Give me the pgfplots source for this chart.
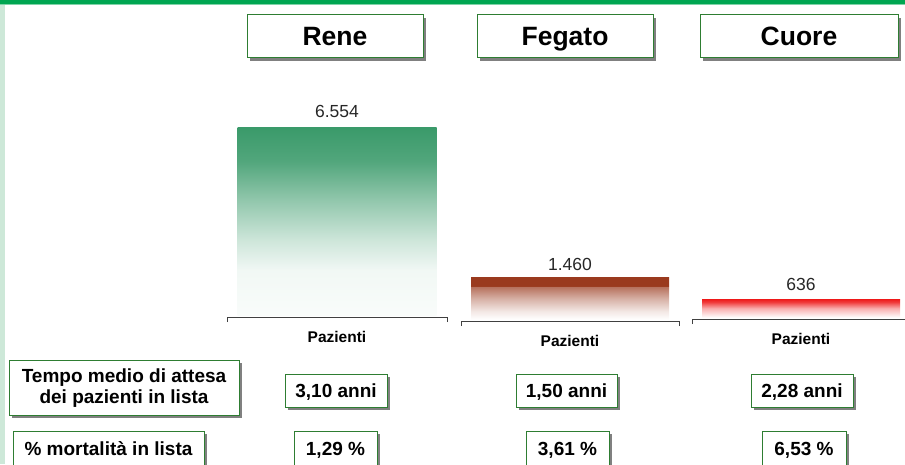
\documentclass[border=0pt]{standalone}
\usepackage{pgfplots}
\pgfplotsset{compat=1.18}
\usepackage{fontspec}
\setmainfont{Liberation Sans}
\definecolor{topgreen}{HTML}{00A651}
\definecolor{lightline}{HTML}{7FD3A8}
\definecolor{strip}{HTML}{CDE8D8}
\definecolor{boxgreen}{HTML}{2E7D32}
\definecolor{shadowgray}{HTML}{808080}
\definecolor{renegreen}{HTML}{3A9A6A}
\definecolor{fegbrown}{HTML}{9A3A1E}
\definecolor{cuorered}{HTML}{EE1C1C}
\definecolor{axisgray}{HTML}{404040}
\pgfdeclareverticalshading{reneshade}{100bp}{color(0bp)=(renegreen!3!white); color(25bp)=(renegreen!3!white); color(37bp)=(renegreen!7!white); color(45bp)=(renegreen!25!white); color(55.5bp)=(renegreen!55!white); color(66bp)=(renegreen!88!white); color(75bp)=(renegreen); color(100bp)=(renegreen)}
\pgfdeclareverticalshading{fegshade}{100bp}{color(0bp)=(white); color(25bp)=(white); color(35bp)=(fegbrown!12!white); color(50bp)=(fegbrown!40!white); color(64bp)=(fegbrown!72!white); color(65bp)=(fegbrown); color(75bp)=(fegbrown); color(100bp)=(fegbrown)}
\pgfdeclareverticalshading{cuoreshade}{100bp}{color(0bp)=(white); color(25bp)=(white); color(50bp)=(cuorered!35!white); color(67bp)=(cuorered!85!white); color(75bp)=(cuorered); color(100bp)=(cuorered)}
\newcommand{\shframe}[4]{% x1 ytop x2 ybottom (pixel coords)
  \fill[shadowgray] (#1pt+3pt,464pt-#2pt-3pt) rectangle (#3pt+3pt,464pt-#4pt-3pt);
  \draw[boxgreen, line width=1pt, fill=white] (#1pt,464pt-#2pt) rectangle (#3pt,464pt-#4pt);
}
\newcommand{\shbox}[6]{% x1 ytop x2 ybottom fontsize text
  \shframe{#1}{#2}{#3}{#4}
  \node[anchor=base, inner sep=0pt, font=\fontsize{#5}{#5}\selectfont\bfseries] at ({(#1pt+#3pt)/2},{464pt-(#2pt+#4pt)/2-0.358*#5pt}) {#6};
}
\pgfplotsset{organ/.style={
  scale only axis, height=201pt, xmin=0, xmax=1, ymin=-50, ymax=6950,
  hide y axis, axis x line*=bottom, clip=false,
  xtick={0,1}, xticklabels={}, tick align=outside, major tick length=5pt,
  axis line style={axisgray, line width=0.9pt}, every tick/.style={axisgray, line width=0.9pt},
  point meta=explicit symbolic,
  nodes near coords,
  anchor=south west}}
\tikzset{vallabel/.style={anchor=center, font=\fontsize{17.5}{20}\selectfont, text=black!85}}
\begin{document}
\begin{tikzpicture}
% decorations
\fill[topgreen] (0pt,460pt) rectangle (905pt,464pt);
\fill[lightline] (0pt,459pt) rectangle (905pt,460pt);
\fill[strip] (0pt,0pt) rectangle (5pt,459pt);
% title boxes
\shbox{247}{15}{423}{58}{26.5}{Rene}
\shbox{477}{15}{653}{58}{26.5}{Fegato}
\shbox{700}{15}{898}{58}{26.5}{Cuore}
% charts
\begin{axis}[organ, at={(227pt,147pt)}, width=220pt, nodes near coords style={vallabel, yshift=16pt}]
\addplot[ybar, bar width=199pt, draw=none, shading=reneshade] coordinates {(0.5,6554) [6.554]};
\node[font=\fontsize{15.5}{18}\selectfont\bfseries] at ([yshift=-20pt]axis description cs:0.5,0) {Pazienti};
\end{axis}
\begin{axis}[organ, at={(461pt,143pt)}, width=218pt, nodes near coords style={vallabel, yshift=13pt}]
\addplot[ybar, bar width=198pt, draw=none, shading=fegshade] coordinates {(0.5,1460) [1.460]};
\node[font=\fontsize{15.5}{18}\selectfont\bfseries] at ([yshift=-20pt]axis description cs:0.5,0) {Pazienti};
\end{axis}
\begin{axis}[organ, at={(692pt,145pt)}, width=218pt, nodes near coords style={vallabel, yshift=15pt}]
\addplot[ybar, bar width=198pt, draw=none, shading=cuoreshade] coordinates {(0.5,636) [636]};
\node[font=\fontsize{15.5}{18}\selectfont\bfseries] at ([yshift=-20pt]axis description cs:0.5,0) {Pazienti};
\end{axis}
% table boxes
\shframe{9}{360}{239}{415}
\node[align=center, inner sep=0pt, font=\fontsize{19}{20.5}\selectfont\bfseries] at (124pt,464pt-388pt) {Tempo medio di attesa\\dei pazienti in lista};
\shbox{285}{374}{387}{407}{19}{3,10 anni}
\shbox{516}{374}{617}{407}{19}{1,50 anni}
\shbox{751}{374}{853}{407}{19}{2,28 anni}
\shbox{13}{431}{204}{466}{19}{\% mortalità in lista}
\shbox{294}{431}{377}{466}{19}{1,29 \%}
\shbox{526}{431}{609}{466}{19}{3,61 \%}
\shbox{762}{431}{846}{466}{19}{6,53 \%}
\pgfresetboundingbox
\path[use as bounding box] (0pt,0pt) rectangle (905pt,464pt);
\end{tikzpicture}
\end{document}
